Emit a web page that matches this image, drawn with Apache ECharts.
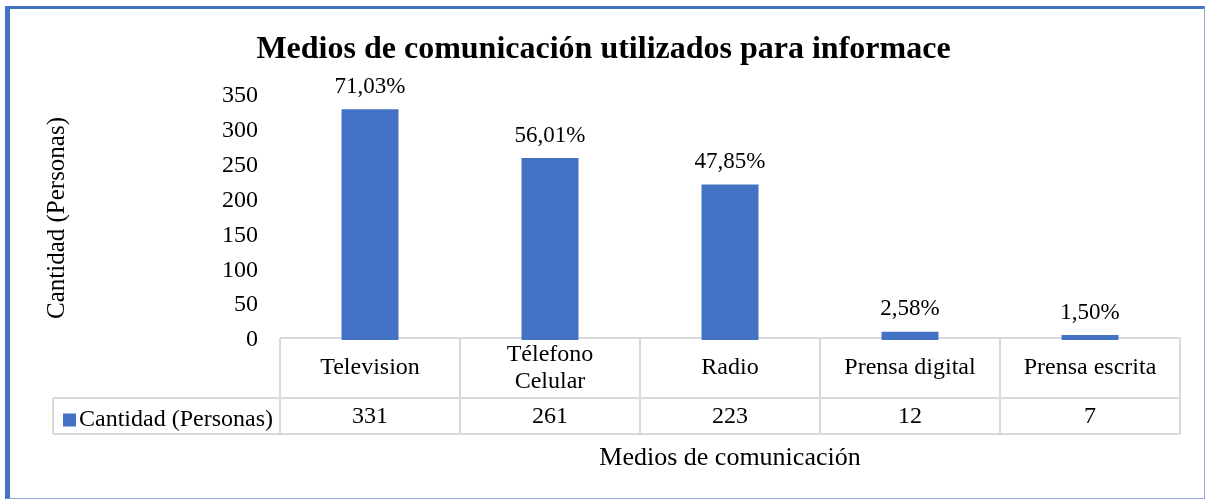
<!DOCTYPE html>
<html>
<head>
<meta charset="utf-8">
<script src="https://cdn.jsdelivr.net/npm/echarts@6/dist/echarts.min.js"></script>
<style>
  html, body { margin: 0; padding: 0; background: #fff; }
  #main { position: absolute; left: 0; top: 0; width: 1207px; height: 500px; }
  #frame {
    position: absolute; left: 5px; top: 6px; width: 1200px; height: 493px;
    box-sizing: border-box; pointer-events: none;
    border-top: 3px solid #4472C4; border-left: 5px solid #4472C4;
    border-right: 1px solid #8EA9DB; border-bottom: 1px solid #8EA9DB;
  }
</style>
</head>
<body>
<div id="main"></div>
<div id="frame"></div>
<script>
// datos del grafico
const categorias = ['Television', 'Télefono\nCelular', 'Radio', 'Prensa digital', 'Prensa escrita']
const cantidades = [331, 261, 223, 12, 7]
const porcentajes = ['71,03%', '56,01%', '47,85%', '2,58%', '1,50%']
const serieNombre = 'Cantidad (Personas)'

const FONT = "'Liberation Serif', 'Times New Roman', serif"
const gridL = 280, gridR = 1180, gridT = 96, gridB = 340

// lineas de la tabla de datos
const lineColor = '#D9D9D9'
const tableTop = 338, rowMid = 398, tableBottom = 434, legendLeft = 53
const colW = (gridR - gridL) / categorias.length
const lines = []
function addLine(x1, y1, x2, y2) {
    lines.push({ type: 'line', shape: { x1, y1, x2, y2 }, style: { stroke: lineColor, lineWidth: 2 }, silent: true })
}
addLine(gridL, tableTop, gridR, tableTop)
addLine(legendLeft, rowMid, gridR, rowMid)
addLine(legendLeft, tableBottom, gridR, tableBottom)
addLine(legendLeft, rowMid, legendLeft, tableBottom)
for (let i = 0; i <= categorias.length; i++) {
    addLine(gridL + i * colW, tableTop, gridL + i * colW, tableBottom)
}

const option = {
    animation: false,
    title: {
        text: 'Medios de comunicación utilizados para informace',
        left: 'center',
        top: 29,
        textStyle: { fontFamily: FONT, fontSize: 32, fontWeight: 'bold', color: '#000' }
    },
    legend: {
        data: [serieNombre],
        left: 58,
        top: 403,
        icon: 'rect',
        itemWidth: 13,
        itemHeight: 13,
        itemGap: 4,
        textStyle: { fontFamily: FONT, fontSize: 24, color: '#000', padding: [0, 0, 0, -2] }
    },
    grid: { left: gridL, right: 1207 - gridR, top: gridT, bottom: 500 - gridB, containLabel: false },
    xAxis: [{
        type: 'category',
        data: categorias,
        axisLine: { show: false },
        axisTick: { show: false },
        axisLabel: {
            margin: 28, verticalAlign: 'middle', interval: 0,
            fontFamily: FONT, fontSize: 24, color: '#000', lineHeight: 27
        }
    }, {
        type: 'category',
        data: cantidades.map(String),
        position: 'bottom',
        offset: 48,
        axisLine: { show: false },
        axisTick: { show: false },
        axisLabel: {
            margin: 29, verticalAlign: 'middle', interval: 0,
            fontFamily: FONT, fontSize: 24, color: '#000'
        },
        name: 'Medios de comunicación',
        nameLocation: 'middle',
        nameGap: 57,
        nameTextStyle: { fontFamily: FONT, fontSize: 26, color: '#000' }
    }],
    yAxis: {
        type: 'value',
        min: 0,
        max: 350,
        interval: 50,
        axisLine: { show: false },
        axisTick: { show: false },
        splitLine: { show: false },
        axisLabel: { margin: 22, fontFamily: FONT, fontSize: 24, color: '#000' },
        name: 'Cantidad (Personas)',
        nameLocation: 'middle',
        nameGap: 210,
        nameTextStyle: { fontFamily: FONT, fontSize: 25, color: '#000' }
    },
    series: [{
        name: serieNombre,
        type: 'bar',
        xAxisIndex: 0,
        barWidth: 57,
        itemStyle: { color: '#4472C4' },
        label: {
            show: true,
            position: 'top',
            distance: 11,
            fontFamily: FONT,
            fontSize: 23,
            color: '#000',
            formatter: p => porcentajes[p.dataIndex]
        },
        data: cantidades
    }],
    graphic: lines
}

const chart = echarts.init(document.getElementById('main'), null, { renderer: 'canvas' })
chart.setOption(option)
</script>
</body>
</html>
